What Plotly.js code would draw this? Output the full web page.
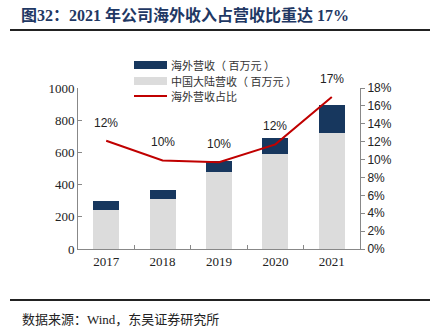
<!DOCTYPE html>
<html><head><meta charset="utf-8">
<script src="https://cdn.plot.ly/plotly-3.0.1.min.js"></script>
<style>html,body{margin:0;padding:0;background:#fff}#c{width:431px;height:329px}</style>
</head><body><div id="c"></div>
<script>
const years = ['2017','2018','2019','2020','2021'];
const domestic = [244, 311, 478, 592, 720];
const overseas = [52, 53, 66, 98, 172];
const sharePct = [12.1, 9.9, 9.7, 11.7, 17.0];
const shareLabels = ['12%','10%','10%','12%','17%'];
const leftTicks = [0,200,400,600,800,1000];
const rightTicks = [0,2,4,6,8,10,12,14,16,18];
const legendNames = ['海外营收（ 百万元 ）','中国大陆营收（ 百万元 ）','海外营收占比'];
const titleText = '图32：2021 年公司海外收入占营收比重达 17%';
const sourceText = '数据来源：Wind，东吴证券研究所';

const W=431,H=329,L=78,R=360,T=88,B=249;
const px = x => (x-L)/(R-L);
const py = y => (B-y)/(B-T);
const navy='#17375E', grey='#DCDCDC', red='#C00000';
const cjk = 'Liberation Serif, Noto Sans CJK SC';

const traces = [
  {type:'bar', x:years, y:domestic, marker:{color:grey}, showlegend:false, hoverinfo:'none'},
  {type:'bar', x:years, y:overseas, marker:{color:navy}, showlegend:false, hoverinfo:'none'},
  {type:'scatter', mode:'lines', x:years, y:sharePct, yaxis:'y2', line:{color:red, width:2}, showlegend:false, hoverinfo:'none'}
];

const annotations = [];
years.forEach((yr,i)=>{
  annotations.push({x:i, y:sharePct[i], xref:'x', yref:'y2', text:shareLabels[i], showarrow:false,
    yshift:18, font:{family:'Liberation Sans, Arial', size:12, color:'#222'}});
});
annotations.push({xref:'paper', yref:'paper', x:px(19), y:py(15), xanchor:'left', yanchor:'middle',
  text:'<b>'+titleText+'</b>', showarrow:false, font:{family:cjk, size:16, color:'#1F3864'}});
annotations.push({xref:'paper', yref:'paper', x:px(20), y:py(319), xanchor:'left', yanchor:'middle',
  text:sourceText, showarrow:false, font:{family:cjk, size:13, color:'#222'}});
const legendY=[65,81,96];
legendNames.forEach((n,i)=>{
  annotations.push({xref:'paper', yref:'paper', x:px(169), y:py(legendY[i]), xanchor:'left', yanchor:'middle',
    text:n, showarrow:false, font:{family:'Noto Sans CJK SC', size:11, color:'#333'}});
});

const shapes = [
  {type:'line', xref:'paper', yref:'paper', x0:px(10), x1:px(430), y0:py(30), y1:py(30), line:{color:'#222', width:2}},
  {type:'line', xref:'paper', yref:'paper', x0:px(10), x1:px(430), y0:py(300), y1:py(300), line:{color:'#222', width:2}},
  {type:'rect', xref:'paper', yref:'paper', x0:px(134), x1:px(167), y0:py(61), y1:py(69), fillcolor:navy, line:{width:0}},
  {type:'rect', xref:'paper', yref:'paper', x0:px(134), x1:px(167), y0:py(77), y1:py(85), fillcolor:grey, line:{width:0}},
  {type:'line', xref:'paper', yref:'paper', x0:px(134), x1:px(167), y0:py(96), y1:py(96), line:{color:red, width:2}}
];

const layout = {
  width:W, height:H, margin:{l:L, r:W-R, t:T, b:H-B, pad:0},
  paper_bgcolor:'#fff', plot_bgcolor:'#fff',
  barmode:'stack', bargap:0.54, showlegend:false,
  xaxis:{type:'category', range:[-0.5,4.5], autorange:false, showline:true, linecolor:'#888', linewidth:1,
    ticks:'inside', tickson:'boundaries', ticklen:4, tickcolor:'#888', showgrid:false,
    tickfont:{family:'Liberation Serif, Times New Roman', size:13, color:'#222'}, zeroline:false},
  yaxis:{range:[0,1000], autorange:false, tickvals:leftTicks, showline:true, linecolor:'#888', linewidth:1, ticks:'inside', ticklen:4, tickcolor:'#888',
    showgrid:false, zeroline:false, tickfont:{family:'Liberation Serif, Times New Roman', size:13, color:'#222'}},
  yaxis2:{overlaying:'y', side:'right', range:[0,18], autorange:false, tickvals:rightTicks, ticktext:rightTicks.map(v=>v+'%'),
    showline:true, linecolor:'#888', linewidth:1, ticks:'outside', ticklen:4, tickcolor:'#888', showgrid:false, zeroline:false,
    tickfont:{family:'Liberation Sans, Arial', size:12, color:'#222'}},
  annotations, shapes
};
Plotly.newPlot('c', traces, layout, {staticPlot:true, displayModeBar:false});
</script></body></html>
